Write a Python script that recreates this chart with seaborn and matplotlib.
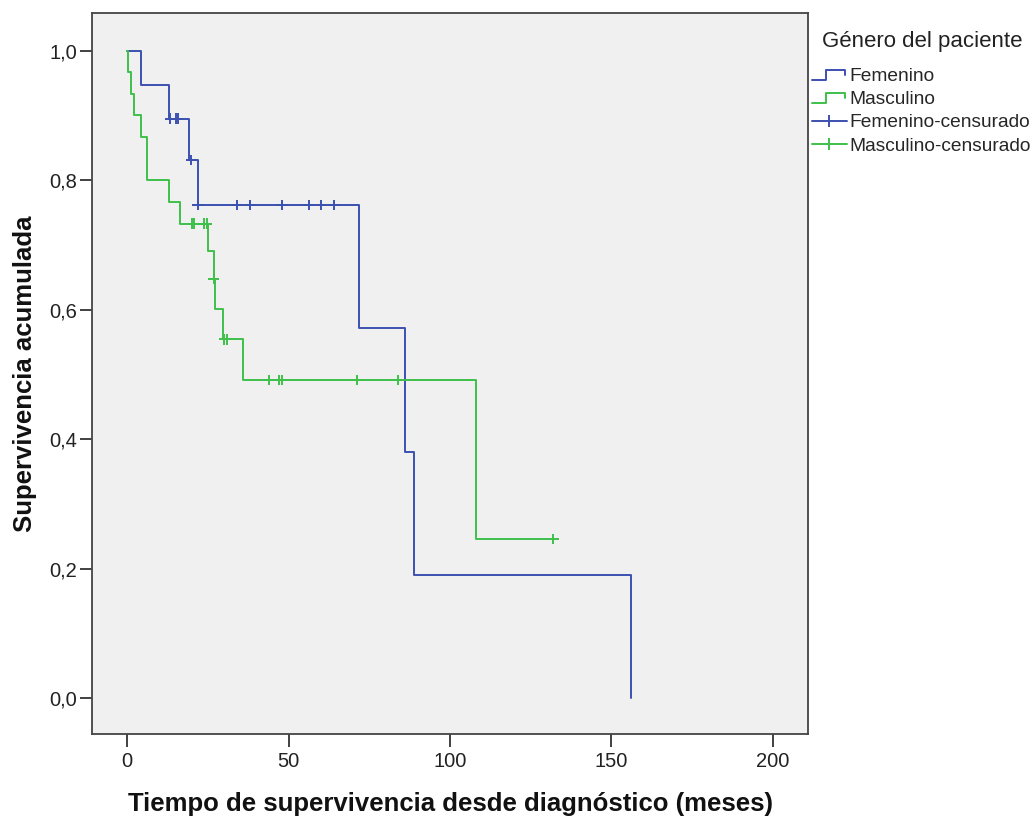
import numpy as np
import pandas as pd
import seaborn as sns
import matplotlib
matplotlib.use("Agg")
import matplotlib.pyplot as plt
from matplotlib.lines import Line2D
from matplotlib.legend_handler import HandlerBase

# Kaplan-Meier step curves (time in months, cumulative survival)
fem_times = [0, 4.2, 13.0, 19.1, 22.0, 71.9, 86.1, 89.0, 156.1]
fem_surv = [1.0, 0.947, 0.895, 0.831, 0.762, 0.571, 0.381, 0.190, 0.0]
fem_cens_times = [13.2, 15.1, 15.8, 19.7, 21.8, 33.9, 38.0, 48.1, 56.2, 60.0, 64.1]
fem_cens_surv = [0.895, 0.895, 0.895, 0.831, 0.762, 0.762, 0.762, 0.762, 0.762, 0.762, 0.762]

masc_times = [0, 0.3, 1.05, 2.0, 4.25, 6.0, 13.0, 16.3, 25.1, 26.8, 27.2, 29.8, 36.0, 108.1, 132.1]
masc_surv = [1.0, 0.967, 0.933, 0.900, 0.867, 0.800, 0.767, 0.733, 0.691, 0.648, 0.601, 0.554, 0.492, 0.246, 0.246]
masc_cens_times = [20.2, 20.8, 23.9, 24.6, 26.8, 30.0, 30.8, 44.0, 47.1, 47.9, 71.1, 84.0, 132.1]
masc_cens_surv = [0.733, 0.733, 0.733, 0.733, 0.648, 0.554, 0.554, 0.492, 0.492, 0.492, 0.492, 0.492, 0.246]

groups = ["Femenino", "Masculino"]
x_ticks = [0, 50, 100, 150, 200]
y_ticks = [0.0, 0.2, 0.4, 0.6, 0.8, 1.0]
y_tick_labels = ["0,0", "0,2", "0,4", "0,6", "0,8", "1,0"]

colors = {"Femenino": "#3C50B0", "Masculino": "#3EC04A"}

curves = pd.concat([
    pd.DataFrame({"t": fem_times, "s": fem_surv, "g": "Femenino"}),
    pd.DataFrame({"t": masc_times, "s": masc_surv, "g": "Masculino"}),
], ignore_index=True)
censored = pd.concat([
    pd.DataFrame({"t": fem_cens_times, "s": fem_cens_surv, "g": "Femenino"}),
    pd.DataFrame({"t": masc_cens_times, "s": masc_cens_surv, "g": "Masculino"}),
], ignore_index=True)

sns.set_style("white")
plt.rcParams["font.family"] = ["Liberation Sans", "DejaVu Sans"]

fig = plt.figure(figsize=(10.36, 8.16), dpi=100)
ax = fig.add_axes([92 / 1036, 1 - 734 / 816, (808 - 92) / 1036, (734 - 13) / 816])
ax.set_facecolor("#F0F0F0")

sns.lineplot(data=curves, x="t", y="s", hue="g", palette=colors, estimator=None,
             sort=False, drawstyle="steps-post", linewidth=1.4, legend=False, ax=ax)
sns.scatterplot(data=censored, x="t", y="s", hue="g", palette=colors, marker="+",
                s=55, linewidth=1.4, legend=False, ax=ax, zorder=3)

ax.set_xlim(-10.9, 211)
ax.set_ylim(-0.055, 1.058)
ax.set_xticks(x_ticks)
ax.set_xticklabels([str(v) for v in x_ticks])
ax.set_yticks(y_ticks)
ax.set_yticklabels(y_tick_labels)
ax.tick_params(axis="both", which="major", bottom=True, left=True, direction="out",
               length=9, width=1.3, color="#333333", labelsize=14.5,
               labelcolor="#222222")
ax.tick_params(axis="x", pad=4)
ax.tick_params(axis="y", pad=1.5)
for sp in ax.spines.values():
    sp.set_color("#444444")
    sp.set_linewidth(1.3)

ax.set_xlabel("Tiempo de supervivencia desde diagnóstico (meses)", fontsize=18.5,
              fontweight="bold", labelpad=15, color="#111111")
ax.set_ylabel("Supervivencia acumulada", fontsize=18.5, fontweight="bold", labelpad=9,
              color="#111111")


class StepHandler(HandlerBase):
    def create_artists(self, legend, orig_handle, xdescent, ydescent, width, height,
                       fontsize, trans):
        x0, y0 = -xdescent, -ydescent
        xs = [x0, x0 + 0.42 * width, x0 + 0.42 * width, x0 + 0.97 * width, x0 + 0.97 * width]
        ys = [y0 + 0.05 * height, y0 + 0.05 * height, y0 + 0.8 * height,
              y0 + 0.8 * height, y0 + 0.45 * height]
        line = Line2D(xs, ys, color=orig_handle.get_color(), linewidth=1.4)
        line.set_transform(trans)
        return [line]


step_handles = [Line2D([], [], color=colors[g]) for g in groups]
cens_handles = [Line2D([], [], color=colors[g], linewidth=1.4, marker="|",
                       markersize=9, markeredgewidth=1.4) for g in groups]
handles = step_handles + cens_handles
labels = groups + [g + "-censurado" for g in groups]

leg = fig.legend(handles, labels, loc="upper left", bbox_to_anchor=(812 / 1036, 1 - 31 / 816),
                 frameon=False, title="Género del paciente", title_fontsize=16,
                 fontsize=13.8, handlelength=1.8, handletextpad=0.15, labelspacing=0.31,
                 borderaxespad=0, borderpad=0, alignment="left", numpoints=1,
                 handler_map={h: StepHandler() for h in step_handles})
leg.get_title().set_position((10, 0))
leg.get_title().set_color("#222222")
leg._legend_box.sep = 11

fig.savefig("out.png", dpi=100, facecolor="white")
